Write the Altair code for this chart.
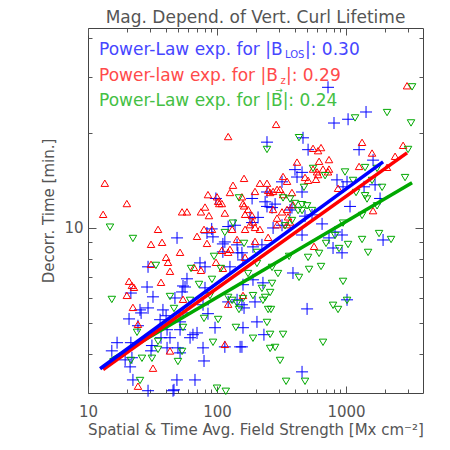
import altair as alt
import pandas as pd

# ---------------- data ----------------
# |B_LOS|  (blue plus signs)
blos_field = [725, 1429, 1037, 807, 244, 464, 508, 1262, 1620, 402,
              456, 417, 851, 1018, 1380, 1679, 948, 1836, 1074, 652,
              481, 319, 244, 187, 236, 282, 381, 180, 98, 122,
              91, 49, 93, 111, 143, 29.2, 73.8, 80.7, 126, 58.5,
              21.5, 54.5, 53.6, 47.2, 29.2, 25.3, 38.1, 40.3, 20.8, 36.2,
              85.1, 162, 96.5, 159, 24.4, 41, 43.2, 51.7, 65.1, 70,
              61.8, 77.9, 115, 151, 16.8, 15.3, 31.3, 41, 49.8, 51.7,
              19.4, 21.2, 79.3, 22.3, 48.9, 67.5, 29.2, 45.6, 25.8, 54.5,
              51.7, 21.5, 36.8, 30.8, 21.9, 187, 272, 319, 456, 822,
              793, 190, 223, 156, 159, 388, 227, 190, 159, 197,
              156, 931, 1937, 931, 1018, 499, 204, 231, 156, 456,
              545, 368, 244, 267, 208, 456, 83.6, 111, 145, 138,
              115, 28.7, 56.5, 80.7, 31.9, 122, 143, 77.9, 46.4, 738]
blos_time = [27.9, 23.3, 22.1, 21.5, 18.7, 19.3, 17.7, 17.7, 16.4, 15.3,
             15.0, 14.5, 14.2, 14.0, 13.5, 13.7, 13.5, 12.4, 11.7, 10.3,
             10.9, 14.0, 13.0, 12.4, 12.1, 11.9, 11.6, 10.8, 12.4, 10.1,
             9.93, 9.3, 9.37, 8.9, 8.84, 7.53, 7.75, 7.53, 7.53, 6.9,
             6.22, 6.55, 6.27, 6.0, 5.58, 5.5, 5.5, 5.27, 5.15, 5.12,
             5.35, 5.58, 4.83, 4.83, 4.9, 4.76, 4.49, 4.76, 4.59, 4.65,
             4.49, 4.17, 4.2, 4.2, 4.33, 4.08, 4.24, 4.17, 4.17, 4.02,
             3.82, 3.63, 3.79, 3.3, 3.3, 3.3, 3.05, 3.05, 5.38, 5.38,
             5.04, 4.33, 4.49, 4.08, 3.88, 10.4, 10.0, 10.2, 9.5, 9.71,
             8.64, 8.71, 8.84, 8.34, 7.92, 7.2, 6.7, 6.85, 6.61, 5.83,
             5.71, 9.5, 9.16, 8.34, 5.92, 5.54, 5.04, 4.59, 4.2, 3.5,
             11.0, 11.4, 11.7, 11.6, 10.8, 13.0, 9.64, 8.4, 8.34, 10.2,
             9.03, 6.5, 6.5, 6.46, 6.05, 5.83, 5.92, 5.71, 3.07, 9.3]

# |B_z|  (red upward triangles)
bz_field = [2970, 287, 1331, 640, 607, 2770, 1591, 738, 618, 2400,
            162, 417, 555, 663, 725, 607, 1262, 2080, 867, 1620,
            215, 244, 249, 197, 325, 292, 159, 272, 319, 190,
            122, 13.5, 133, 85.1, 126, 20.0, 104, 109, 80.7, 13.1,
            53.6, 58.5, 75.1, 86.6, 115, 165, 162, 34.9, 79.3, 91.4,
            131, 165, 70, 30.8, 37.5, 83.6, 51.7, 109, 122, 40.3,
            30.8, 41.7, 43.2, 98.2, 66.3, 75.1, 111, 20.8, 21.9, 36.8,
            20.0, 22.7, 22.3, 122, 159, 24.4, 115, 43.2, 31.9, 24.4,
            54.5, 143, 126, 180, 197, 215, 292, 349, 368, 565,
            197, 249, 165, 555, 596, 738, 481, 508, 585, 325,
            349, 258, 272, 308, 381, 156, 174, 187, 349, 388,
            292, 355, 100, 102]
bz_time = [28.1, 21.2, 18.6, 17.9, 17.5, 18.2, 17.2, 16.4, 16.2, 16.8,
           14.3, 16.1, 15.3, 15.3, 15.0, 14.7, 15.6, 15.5, 13.3, 11.3,
           13.8, 13.8, 13.1, 13.0, 12.7, 13.2, 11.9, 11.4, 11.2, 10.4,
           19.4, 13.8, 13.6, 12.7, 12.9, 11.9, 11.9, 11.9, 11.6, 11.0,
           11.2, 11.2, 11.2, 10.9, 11.1, 11.0, 11.7, 9.86, 9.86, 9.86,
           9.86, 9.86, 9.37, 8.84, 8.97, 8.9, 8.34, 8.46, 8.34, 8.04,
           7.64, 7.75, 7.26, 7.75, 7.47, 7.31, 7.42, 6.75, 6.55, 6.7,
           6.09, 6.46, 5.58, 5.71, 6.09, 4.93, 4.26, 4.06, 3.58, 3.14,
           5.92, 9.16, 8.52, 10.2, 10.0, 9.86, 10.2, 10.2, 10.4, 8.71,
           9.03, 9.3, 8.04, 17.8, 15.0, 15.3, 14.4, 14.1, 14.2, 14.5,
           14.0, 12.9, 13.0, 13.2, 12.9, 12.5, 11.4, 10.9, 11.4, 11.8,
           10.7, 10.8, 12.5, 12.1]

# |B| vector  (green downward triangles)
bvec_field = [3250, 1175, 2080, 3190, 244, 432, 3025, 688, 982, 1404,
              1740, 2868, 1133, 1591, 1903, 1196, 1404, 1455, 1331, 1740,
              325, 456, 499, 381, 425, 148, 14.8, 133, 115, 22.3,
              162, 94.8, 33.6, 62.9, 72.5, 43.2, 15.3, 46.4, 61.8, 79.3,
              102, 131, 143, 148, 140, 24.0, 54.5, 93.1, 34.9, 26.2,
              25.3, 100, 117, 343, 481, 34.9, 53.6, 49.8, 31.3, 21.5,
              337, 700, 204, 204, 174, 297, 267, 362, 508, 618,
              432, 517, 267, 223, 258, 190, 236, 227, 948, 822,
              1331, 1803, 2234, 1037, 883, 1482, 640, 948, 1018, 793,
              867, 262, 249, 244, 190, 258, 325, 282, 258, 663,
              308, 555, 472, 368, 402, 456, 545, 91.4, 88.2, 122,
              107, 159]
bvec_time = [28.1, 22.4, 23.3, 21.6, 17.8, 19.4, 17.8, 14.7, 15.1, 15.6,
             15.5, 14.5, 14.2, 14.2, 13.5, 13.0, 12.7, 12.4, 11.0, 11.8,
             12.5, 11.9, 11.8, 10.6, 11.4, 12.5, 10.1, 10.4, 9.71, 9.3,
             8.97, 8.16, 7.64, 7.47, 6.65, 6.09, 5.96, 5.58, 5.92, 5.19,
             5.15, 5.92, 5.79, 5.54, 4.86, 4.69, 4.86, 4.36, 4.14, 3.88,
             3.3, 3.12, 3.05, 3.28, 3.28, 4.39, 4.08, 3.79, 3.88, 3.82,
             10.2, 8.97, 8.4, 7.75, 7.2, 7.2, 7.53, 8.16, 8.1, 8.34,
             7.0, 7.42, 6.7, 6.46, 6.27, 6.13, 6.05, 5.92, 10.4, 9.5,
             9.23, 9.64, 9.23, 8.9, 8.64, 8.4, 7.58, 6.8, 5.92, 5.71,
             5.54, 5.54, 5.54, 5.04, 4.49, 4.62, 4.62, 4.2, 4.17, 4.36,
             3.82, 15.5, 13.5, 12.4, 12.0, 11.4, 11.4, 6.9, 6.13, 6.05,
             7.47, 6.0]

# power-law fit lines (end points)
blos_fit_field = [12.4, 1937]
blos_fit_time = [3.58, 16.2]
bz_fit_field = [13.1, 2970]
bz_fit_time = [3.56, 17.3]
bvec_fit_field = [14.8, 3250]
bvec_fit_time = [3.81, 13.9]

x_major = [10, 100, 1000]
x_minor = [20, 30, 40, 50, 60, 70, 80, 90, 200, 300, 400, 500, 600, 700, 800, 900, 2000, 3000]
y_major = [10]
y_minor = [4, 5, 6, 7, 8, 9, 20, 30, 40]

# ---------------- styling ----------------
W, H = 335, 365
FONT = "DejaVu Sans"
GRAY = "#555555"
BLUE, RED, GREEN = "#0000ff", "#ff0000", "#00a800"
BLUE_T, RED_T, GREEN_T = "#4646ff", "#ff4a4a", "#44c044"

xs = alt.Scale(type="log", domain=[10, 3950], nice=False)
ys = alt.Scale(type="log", domain=[3.0, 43], nice=False)

PLUS = "M-1,0L1,0M0,-1L0,1"
TRI_UP = "M0,-1L1,0.7L-1,0.7Z"
TRI_DN = "M0,1L1,-0.7L-1,-0.7Z"


def scatter(xv, yv, shape, color, size):
    df = pd.DataFrame({"x": xv, "y": yv})
    return alt.Chart(df).mark_point(shape=shape, filled=False, color=color,
                                    strokeWidth=1, size=size, opacity=1).encode(
        x=alt.X("x:Q", scale=xs, axis=None),
        y=alt.Y("y:Q", scale=ys, axis=None))


def fit(xv, yv, color):
    df = pd.DataFrame({"x": xv, "y": yv})
    return alt.Chart(df).mark_line(color=color, strokeWidth=3.5).encode(
        x=alt.X("x:Q", scale=xs, axis=None),
        y=alt.Y("y:Q", scale=ys, axis=None))


anchor = pd.DataFrame({"x": [100], "y": [10]})


def axis_layer(xaxis, yaxis):
    return alt.Chart(anchor).mark_point(opacity=0).encode(
        x=alt.X("x:Q", scale=xs, axis=xaxis),
        y=alt.Y("y:Q", scale=ys, axis=yaxis))


def tick_axis(orient, offset, values, size):
    return alt.Axis(orient=orient, offset=offset, values=values, labels=False,
                    domain=False, grid=False, ticks=True, tickSize=size,
                    tickColor=GRAY, tickWidth=1, title=None)


def label(text, x, y, color, size, align="left", baseline="alphabetic"):
    return alt.Chart(anchor).mark_text(text=text, font=FONT, fontSize=size, color=color,
                                       align=align, baseline=baseline).encode(
        x=alt.value(x), y=alt.value(y))


xlab = alt.Axis(orient="bottom", values=x_major, format="d", ticks=False, tickSize=0,
                domain=False, grid=False, labelFont=FONT, labelFontSize=15, labelColor=GRAY,
                labelPadding=11, labelFlush=False, labelOverlap=False,
                title="Spatial & Time Avg. Field Strength [Mx cm\u207b\u00b2]",
                titleFont=FONT, titleFontSize=15, titleFontWeight="normal",
                titleColor=GRAY, titlePadding=3)
ylab = alt.Axis(orient="left", values=y_major, format="d", ticks=False, tickSize=0,
                domain=False, grid=False, labelFont=FONT, labelFontSize=15, labelColor=GRAY,
                labelPadding=5, title="Decorr. Time [min.]",
                titleFont=FONT, titleFontSize=15, titleFontWeight="normal",
                titleColor=GRAY, titlePadding=7)

layers = [
    scatter(blos_field, blos_time, PLUS, BLUE, 144),
    scatter(bz_field, bz_time, TRI_UP, RED, 56),
    scatter(bvec_field, bvec_time, TRI_DN, GREEN, 56),
    fit(bvec_fit_field, bvec_fit_time, GREEN),
    fit(bz_fit_field, bz_fit_time, RED),
    fit(blos_fit_field, blos_fit_time, BLUE),
    label("Power-Law exp. for |B", 11, 27, BLUE_T, 17),
    label("LOS", 197, 30, BLUE_T, 10),
    label("|: 0.30", 217, 27, BLUE_T, 17),
    label("Power-law exp. for |B", 11, 53, RED_T, 17),
    label("z", 192.5, 56, RED_T, 10),
    label("|: 0.29", 198, 53, RED_T, 17),
    label("Power-Law exp. for |B|: 0.24", 11, 78, GREEN_T, 17),
    label("\u2192", 191, 62, GREEN_T, 9, align="center", baseline="middle"),
    axis_layer(xlab, ylab),
    axis_layer(tick_axis("top", -H, x_minor, 4), tick_axis("right", -W, y_minor, 4)),
    axis_layer(tick_axis("top", -H, x_major, 7), tick_axis("right", -W, y_major, 8)),
    axis_layer(tick_axis("bottom", -H, x_minor, 4), tick_axis("left", -W, y_minor, 4)),
    axis_layer(tick_axis("bottom", -H, x_major, 7), tick_axis("left", -W, y_major, 8)),
]

chart = alt.layer(*layers).properties(
    width=W, height=H,
    title=alt.TitleParams("Mag. Depend. of Vert. Curl Lifetime", font=FONT, fontSize=17,
                          fontWeight="normal", color=GRAY, anchor="middle", offset=0.5),
    autosize=alt.AutoSizeParams(type="none"),
    padding={"left": 80, "top": 20, "right": 19, "bottom": 52},
).resolve_axis(x="independent", y="independent").configure_view(
    stroke="#444444", strokeWidth=1)

chart.save("out.html", embed_options={"renderer": "svg", "actions": False})
